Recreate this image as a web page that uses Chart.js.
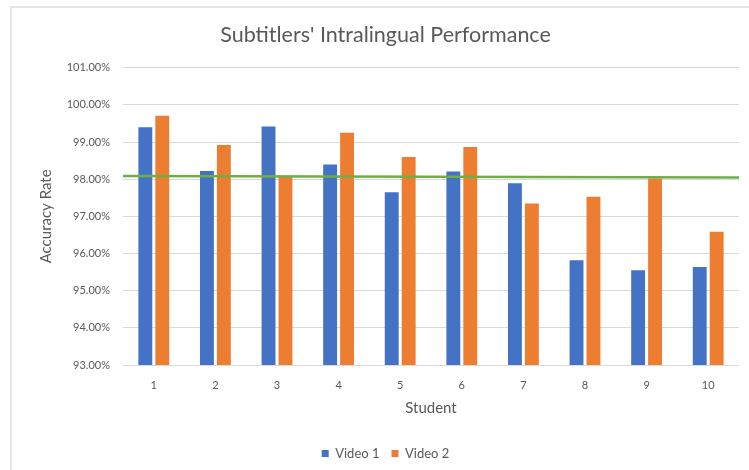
<!DOCTYPE html>
<html>
<head>
<meta charset="utf-8">
<script src="https://cdn.jsdelivr.net/npm/chart.js@4/dist/chart.umd.min.js"></script>
<style>
  html, body { margin: 0; padding: 0; background: #ffffff; overflow: hidden; }
  body { width: 749px; height: 470px; position: relative; }
  #frame {
    position: absolute; left: 10px; top: 6px;
    width: 760px; height: 470px;
    border-top: 2px solid #e6e6e6; border-left: 2px solid #e6e6e6;
    background: #ffffff;
  }
  #chart { display: block; }
</style>
</head>
<body>
<div id="frame"><canvas id="chart" width="745" height="464"></canvas></div>
<script>
// Students and accuracy rates (percent) for each video
const students = ['1', '2', '3', '4', '5', '6', '7', '8', '9', '10'];
const video1 = [99.40, 98.22, 99.42, 98.40, 97.65, 98.21, 97.89, 95.82, 95.55, 95.64];
const video2 = [99.71, 98.92, 98.07, 99.25, 98.60, 98.87, 97.35, 97.53, 98.02, 96.59];
// Reference line from the left edge to the right edge of the plot (start, end)
const referenceLine = [98.09, 98.05];
const yTicks = { min: 93, max: 101, step: 1 };

const textColor = '#595959';
const fontFamily = 'Lato, "Open Sans", sans-serif';

// Category index -0.5 and last+0.5 are the outer edges of the category axis
const referencePoints = [
  { x: -0.5, y: referenceLine[0] },
  { x: students.length - 0.5, y: referenceLine[1] }
];

new Chart(document.getElementById('chart'), {
  type: 'bar',
  data: {
    labels: students,
    datasets: [
      { label: 'Video 1', data: video1, backgroundColor: '#4472C4', order: 2 },
      { label: 'Video 2', data: video2, backgroundColor: '#ED7D31', order: 2 },
      {
        type: 'line', label: 'Reference', data: referencePoints,
        parsing: false, borderColor: '#70AD47', borderWidth: 2.5,
        pointRadius: 0, order: 0, fill: false, tension: 0
      }
    ]
  },
  options: {
    responsive: false,
    animation: false,
    devicePixelRatio: 1,
    datasets: { bar: { categoryPercentage: 0.55, barPercentage: 0.82 } },
    layout: { padding: { left: 20, right: 18, top: 0, bottom: 2 } },
    plugins: {
      tooltip: { enabled: false },
      title: {
        display: true,
        text: "Subtitlers' Intralingual Performance",
        color: textColor,
        font: { family: fontFamily, size: 21.5, weight: 'normal' },
        padding: { top: 14, bottom: 20 }
      },
      legend: {
        position: 'bottom',
        labels: {
          color: textColor,
          font: { family: fontFamily, size: 13 },
          boxWidth: 7, boxHeight: 7, padding: 12,
          filter: item => item.text !== 'Reference'
        }
      }
    },
    scales: {
      x: {
        type: 'category',
        bounds: 'ticks',
        grid: { display: false },
        border: { display: false },
        ticks: { color: textColor, font: { family: fontFamily, size: 11 }, padding: 6 },
        title: {
          display: true, text: 'Student', color: textColor,
          font: { family: fontFamily, size: 15 },
          padding: { top: 4, bottom: 18 }
        },
        afterFit: scale => { scale.height = 70; }
      },
      y: {
        min: yTicks.min, max: yTicks.max,
        grid: { color: '#d9d9d9', lineWidth: 1, drawTicks: false },
        border: { display: false },
        ticks: {
          stepSize: yTicks.step,
          color: textColor,
          font: { family: fontFamily, size: 11 },
          padding: 13,
          callback: v => v.toFixed(2) + '%'
        },
        title: {
          display: true, text: 'Accuracy Rate', color: textColor,
          font: { family: fontFamily, size: 15 },
          padding: { top: 5, bottom: 0 }
        },
        afterFit: scale => { scale.width = 111 - 20; }
      }
    }
  }
});
</script>
</body>
</html>
